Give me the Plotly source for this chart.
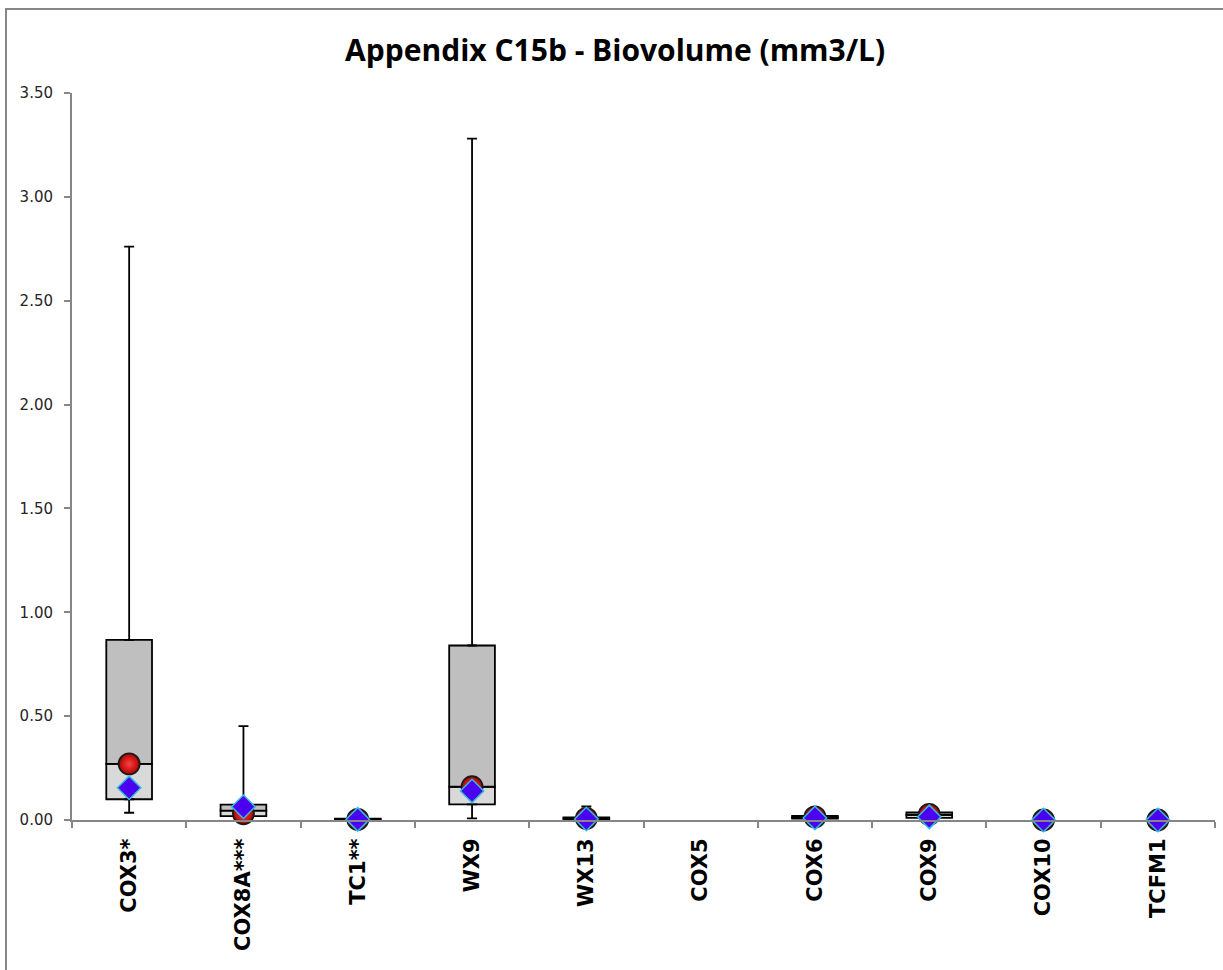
import plotly.graph_objects as go

# Sites along the x axis
categories = ["COX3*", "COX8A***", "TC1**", "WX9", "WX13", "COX5", "COX6", "COX9", "COX10", "TCFM1"]

# Box-and-whisker statistics (mm3/L); None where a site has no box
whisker_min = [0.035, 0.008, 0.000, 0.008, 0.000, None, 0.003, 0.005, None, None]
quartile_1 = [0.100, 0.019, 0.001, 0.075, 0.004, None, 0.007, 0.010, None, None]
median_val = [0.270, 0.045, 0.003, 0.160, 0.008, None, 0.012, 0.025, None, None]
quartile_3 = [0.867, 0.074, 0.006, 0.840, 0.012, None, 0.020, 0.036, None, None]
whisker_max = [2.760, 0.452, 0.010, 3.280, 0.065, None, 0.022, 0.038, None, None]

# Point markers
median_marker = [0.270, 0.030, 0.003, 0.160, 0.008, None, 0.015, 0.027, 0.000, 0.000]
mean_marker = [0.155, 0.064, 0.003, 0.140, 0.005, None, 0.010, 0.015, 0.000, 0.000]

y_ticks = [0.0, 0.5, 1.0, 1.5, 2.0, 2.5, 3.0, 3.5]


def diff(a, b):
    return [None if (x is None or y is None) else x - y for x, y in zip(a, b)]


fig = go.Figure()

box_line = dict(color="black", width=1.8)

# Lower half of each box (Q1 to median)
fig.add_trace(go.Bar(
    x=categories, y=diff(median_val, quartile_1), base=quartile_1,
    width=0.4, marker=dict(color="#D9D9D9", line=box_line),
    name="Q1-Median", hoverinfo="skip",
))
# Upper half of each box (median to Q3)
fig.add_trace(go.Bar(
    x=categories, y=diff(quartile_3, median_val), base=median_val,
    width=0.4, marker=dict(color="#BFBFBF", line=box_line),
    name="Median-Q3", hoverinfo="skip",
))

# Upper whiskers
fig.add_trace(go.Scatter(
    x=categories, y=quartile_3, mode="markers",
    marker=dict(size=1, opacity=0),
    error_y=dict(type="data", symmetric=False,
                 array=diff(whisker_max, quartile_3),
                 arrayminus=[0 if v is not None else None for v in quartile_3],
                 color="black", thickness=1.8, width=5),
    showlegend=False, hoverinfo="skip",
))
# Lower whiskers
fig.add_trace(go.Scatter(
    x=categories, y=quartile_1, mode="markers",
    marker=dict(size=1, opacity=0),
    error_y=dict(type="data", symmetric=False,
                 array=[0 if v is not None else None for v in quartile_1],
                 arrayminus=diff(quartile_1, whisker_min),
                 color="black", thickness=1.8, width=5),
    showlegend=False, hoverinfo="skip",
))

# Red spheres
fig.add_trace(go.Scatter(
    x=categories, y=median_marker, mode="markers", name="Median",
    marker=dict(symbol="circle", size=21, color="#b00000",
                gradient=dict(type="radial", color="#ff4040"),
                line=dict(color="#1a1a1a", width=1.8)),
    cliponaxis=False,
))
# Blue diamonds
fig.add_trace(go.Scatter(
    x=categories, y=mean_marker, mode="markers", name="Mean",
    marker=dict(symbol="diamond", size=18, color="#4B00F0",
                line=dict(color="#33BBDD", width=1.5)),
    cliponaxis=False,
))

axis_grey = "#868686"

fig.update_layout(
    width=1223, height=970,
    margin=dict(l=72, r=8, t=93, b=150),
    paper_bgcolor="white", plot_bgcolor="white",
    barmode="overlay", showlegend=False,
    title=dict(text="<b>Appendix C15b - Biovolume (mm3/L)</b>",
               x=0.503, xanchor="center", y=0.948, yanchor="middle",
               font=dict(family="Open Sans", size=30, color="black")),
    xaxis=dict(
        type="category", range=[-0.5, 9.5],
        showline=True, linecolor=axis_grey, linewidth=2,
        ticks="outside", tickson="boundaries", ticklen=6, tickcolor=axis_grey, tickwidth=1.5,
        tickangle=-90, ticklabelstandoff=8,
        tickfont=dict(family="DejaVu Sans", size=21, color="black", weight="bold"),
        showgrid=False, zeroline=False,
    ),
    yaxis=dict(
        range=[0, 3.5], tickvals=y_ticks, tickformat=".2f",
        showline=True, linecolor=axis_grey, linewidth=2,
        ticks="outside", ticklen=6, tickcolor=axis_grey, tickwidth=1.5,
        ticklabelstandoff=8,
        tickfont=dict(family="DejaVu Sans", size=15, color="#262626"),
        showgrid=False, zeroline=False,
    ),
    shapes=[dict(
        type="rect", xref="paper", yref="paper",
        x0=(6 - 72) / 1143, x1=(1260 - 72) / 1143,
        y0=(820 - 1000) / 727, y1=(820 - 9) / 727,
        line=dict(color=axis_grey, width=2), fillcolor="rgba(0,0,0,0)",
        layer="below",
    )],
)

fig.write_html("out.html")
